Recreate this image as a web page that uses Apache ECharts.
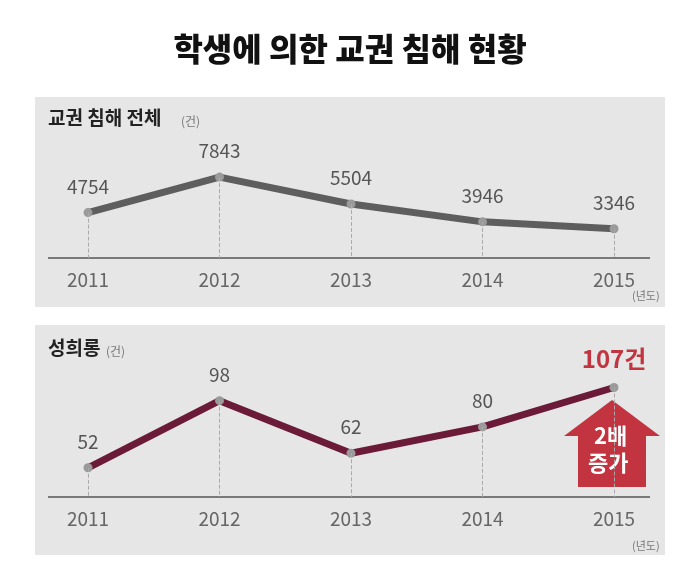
<!DOCTYPE html>
<html><head><meta charset="utf-8">
<script src="https://cdn.jsdelivr.net/npm/echarts@6/dist/echarts.min.js"></script>
<style>html,body{margin:0;background:#fff}#c{width:700px;height:580px}</style>
</head><body><div id="c"></div>
<script>
var years = ['2011', '2012', '2013', '2014', '2015'];
var totalCases = [4754, 7843, 5504, 3946, 3346];
var harassCases = [52, 98, 62, 80, 107];

var font = '"Noto Sans CJK KR", sans-serif';
var chart = echarts.init(document.getElementById('c'));

function dropLines(vals, min) {
    return vals.map(function(v, i) {
        return [{ coord: [i, v] }, { coord: [i, min] }];
    });
}

var option = {
    textStyle: { fontFamily: font },
    title: {
        text: '학생에 의한 교권 침해 현황', left: 'center', top: 28,
        textStyle: { fontSize: 32, fontWeight: 900, color: '#111', fontFamily: font }
    },
    graphic: [
        { type: 'rect', shape: { x: 35, y: 97, width: 630, height: 210 }, style: { fill: '#e6e6e6' }, z: -10 },
        { type: 'rect', shape: { x: 35, y: 325, width: 630, height: 230 }, style: { fill: '#e6e6e6' }, z: -10 },
        { type: 'line', shape: { x1: 48, y1: 258, x2: 650, y2: 258 }, style: { stroke: '#555', lineWidth: 1.5 } },
        { type: 'line', shape: { x1: 48, y1: 497, x2: 650, y2: 497 }, style: { stroke: '#555', lineWidth: 1.5 } },
        { type: 'text', left: 48, top: 108, style: { text: '교권 침해 전체', font: 'bold 19px ' + font, fill: '#222' } },
        { type: 'text', left: 181, top: 115, style: { text: '(건)', font: '12px ' + font, fill: '#777' } },
        { type: 'text', left: 48, top: 338, style: { text: '성희롱', font: 'bold 19px ' + font, fill: '#222' } },
        { type: 'text', left: 106, top: 345, style: { text: '(건)', font: '12px ' + font, fill: '#777' } },
        { type: 'text', left: 632, top: 290, style: { text: '(년도)', font: '11px ' + font, fill: '#777' } },
        { type: 'text', left: 632, top: 540, style: { text: '(년도)', font: '11px ' + font, fill: '#777' } },
        { type: 'polygon', shape: { points: [[612, 400], [660, 436], [646, 436], [646, 487], [578, 487], [578, 436], [564, 436]] },
          style: { fill: '#c2343f' } },
        { type: 'text', left: 594, top: 425, style: { text: '2배', font: 'bold 22px ' + font, fill: '#fff' } },
        { type: 'text', left: 588, top: 452, style: { text: '증가', font: 'bold 22px ' + font, fill: '#fff' } }
    ],
    grid: [
        { left: 88, right: 86, top: 150, height: 108 },
        { left: 88, right: 86, top: 370, height: 127 }
    ],
    xAxis: [0, 1].map(function(i) {
        return {
            type: 'category', gridIndex: i, data: years, boundaryGap: false,
            axisLine: { show: false }, axisTick: { show: false },
            axisLabel: { color: '#666', fontSize: 19, margin: 12, fontFamily: font }
        };
    }),
    yAxis: [
        { type: 'value', gridIndex: 0, min: 800, max: 10200, show: false },
        { type: 'value', gridIndex: 1, min: 32, max: 119, show: false }
    ],
    series: [
        {
            type: 'line', xAxisIndex: 0, yAxisIndex: 0, data: totalCases,
            lineStyle: { color: '#5e5e5e', width: 7 }, symbol: 'circle', symbolSize: 9,
            itemStyle: { color: '#9a9a9a' },
            label: { show: true, position: 'top', distance: 12, color: '#555', fontSize: 19, fontFamily: font },
            markLine: { silent: true, symbol: 'none', label: { show: false },
                lineStyle: { color: '#aaa', type: 'dashed', width: 1 }, data: dropLines(totalCases, 800) }
        },
        {
            type: 'line', xAxisIndex: 1, yAxisIndex: 1, data: harassCases,
            lineStyle: { color: '#6b1a37', width: 7 }, symbol: 'circle', symbolSize: 9,
            itemStyle: { color: '#9a9a9a' },
            label: {
                show: true, position: 'top', distance: 12, color: '#555', fontSize: 19, fontFamily: font,
                formatter: function(p) { return p.dataIndex === 4 ? '{r|' + p.value + '건}' : p.value; },
                rich: { r: { color: '#c2343f', fontSize: 24, fontWeight: 'bold', fontFamily: font } }
            },
            markLine: { silent: true, symbol: 'none', label: { show: false },
                lineStyle: { color: '#aaa', type: 'dashed', width: 1 }, data: dropLines(harassCases, 32) }
        }
    ]
};
chart.setOption(option);
</script></body></html>
